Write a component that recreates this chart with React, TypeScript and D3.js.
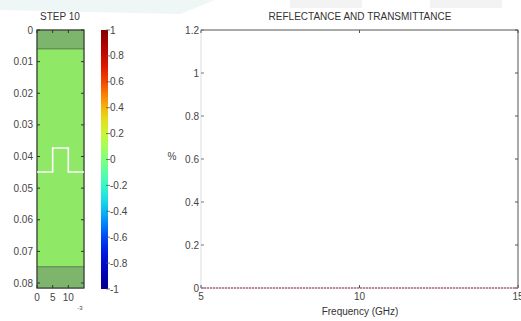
import React from 'react';
import * as d3 from 'd3';

// left panel: layered slab, depth (m) vs width (x1e-3)
const depthTicks = [0, 0.01, 0.02, 0.03, 0.04, 0.05, 0.06, 0.07, 0.08];
const widthTicks = [0, 5, 10];
const layers = [
  { y0: 0, y1: 0.006, kind: 'dark' },
  { y0: 0.006, y1: 0.0749, kind: 'light' },
  { y0: 0.0749, y1: 0.0816, kind: 'dark' },
];
// white pulse trace (x, depth)
const pulseX = [0, 5, 5, 10, 10, 15];
const pulseY = [0.0449, 0.0449, 0.0373, 0.0373, 0.0449, 0.0449];

// colorbar
const cbarTicks = [1, 0.8, 0.6, 0.4, 0.2, 0, -0.2, -0.4, -0.6, -0.8, -1];

// right panel
const freqTicks = [5, 10, 15];
const pctTicks = [0, 0.2, 0.4, 0.6, 0.8, 1, 1.2];
const freqs = [5, 6, 7, 8, 9, 10, 11, 12, 13, 14, 15];
const reflectance = [0, 0, 0, 0, 0, 0, 0, 0, 0, 0, 0];
const transmittance = [0, 0, 0, 0, 0, 0, 0, 0, 0, 0, 0];

const font = '"Liberation Sans", Arial, sans-serif';
const txt = '#444';

export default function App() {
  const W = 521, H = 321;

  const lx = d3.scaleLinear().domain([0, 15]).range([37, 84]);
  const ly = d3.scaleLinear().domain([0, 0.08]).range([30, 283]);

  const cy = d3.scaleLinear().domain([1, -1]).range([30, 289]);
  const stops = d3.range(0, 1.0001, 0.05);
  const jet = d3.interpolateRgbBasis(['#00008f', '#0000ff', '#00ffff', '#80ff80', '#ffff00', '#ff0000', '#800000']);

  const rx = d3.scaleLinear().domain([5, 15]).range([201, 518]);
  const ry = d3.scaleLinear().domain([0, 1.2]).range([288, 30]);

  const pulse = d3.line<number>().x(i => lx(pulseX[i])).y(i => ly(pulseY[i]));
  const pulsePts = pulseX.map((d, i) => i);

  const line = d3.line<number>().x((d, i) => rx(freqs[i])).y(d => ry(d));

  return (
    <svg width={W} height={H} style={{ position: 'absolute', left: 0, top: 0, background: '#fff' }}
      fontFamily={font}>
      {/* faint page artefacts at the top */}
      <path d="M0,0 L215,0 L180,14 L0,10 Z" fill="#eef7f5" />
      <rect x={290} y={0} width={72} height={8} fill="#f3f3f3" />
      <rect x={430} y={0} width={72} height={8} fill="#f3f3f3" />

      {/* LEFT PANEL */}
      <text x={60} y={20} textAnchor="middle" fontSize={10} fill="#333">STEP 10</text>
      {layers.map((l, i) => (
        <rect key={i} x={lx(0)} y={ly(l.y0)} width={lx(15) - lx(0)} height={ly(l.y1) - ly(l.y0)}
          fill={l.kind === 'dark' ? '#7db56c' : '#8fe866'} stroke="#5f7f55" strokeWidth={0.8} />
      ))}
      <rect x={lx(0)} y={ly(0)} width={lx(15) - lx(0)} height={ly(0.0816) - ly(0)}
        fill="none" stroke="#333" strokeWidth={1} />
      <path d={pulse(pulsePts) || ''} fill="none" stroke="#fff" strokeWidth={1.6} />
      {depthTicks.map(t => (
        <g key={t}>
          <line x1={lx(0)} x2={lx(0) + 3} y1={ly(t)} y2={ly(t)} stroke="#333" />
          <line x1={lx(15)} x2={lx(15) - 3} y1={ly(t)} y2={ly(t)} stroke="#333" />
          <text x={33} y={ly(t) + 3.5} textAnchor="end" fontSize={10} fill={txt}>{t === 0 ? '0' : t.toFixed(2)}</text>
        </g>
      ))}
      {widthTicks.map(t => (
        <g key={t}>
          <line x1={lx(t)} x2={lx(t)} y1={ly(0)} y2={ly(0) + 3} stroke="#333" />
          <line x1={lx(t)} x2={lx(t)} y1={ly(0.0816)} y2={ly(0.0816) - 3} stroke="#333" />
          <text x={lx(t)} y={301} textAnchor="middle" fontSize={10} fill={txt}>{t}</text>
        </g>
      ))}
      <text x={80} y={310} textAnchor="middle" fontSize={6} fill={txt}>-3</text>

      {/* COLORBAR */}
      <defs>
        <linearGradient id="jet" x1="0" y1="1" x2="0" y2="0">
          {stops.map(s => (
            <stop key={s} offset={s} stopColor={jet(s)} />
          ))}
        </linearGradient>
      </defs>
      <rect x={101} y={cy(1)} width={7} height={cy(-1) - cy(1)} fill="url(#jet)" />
      {cbarTicks.map(t => (
        <g key={t}>
          <line x1={106} x2={110} y1={cy(t)} y2={cy(t)} stroke="#555" strokeWidth={0.8} />
          <text x={110} y={cy(t) + 3.5} fontSize={10} fill={txt}>{String(t)}</text>
        </g>
      ))}

      {/* RIGHT PANEL */}
      <text x={360} y={20} textAnchor="middle" fontSize={10} fill="#333">REFLECTANCE AND TRANSMITTANCE</text>
      <line x1={rx(5)} x2={rx(15)} y1={ry(1.2)} y2={ry(1.2)} stroke="#555" />
      <line x1={rx(15)} x2={rx(15)} y1={ry(1.2)} y2={ry(0)} stroke="#555" />
      <line x1={rx(5)} x2={rx(5)} y1={ry(1.2)} y2={ry(0)} stroke="#ddd" />
      <line x1={rx(5)} x2={rx(15)} y1={ry(0)} y2={ry(0)} stroke="#bbb" />
      {pctTicks.map(t => (
        <g key={t}>
          <line x1={rx(5)} x2={rx(5) + 3} y1={ry(t)} y2={ry(t)} stroke="#777" />
          <line x1={rx(15)} x2={rx(15) - 3} y1={ry(t)} y2={ry(t)} stroke="#555" />
          <text x={199} y={ry(t) + 3.5} textAnchor="end" fontSize={10} fill={txt}>{String(t)}</text>
        </g>
      ))}
      {freqTicks.map(t => (
        <g key={t}>
          <line x1={rx(t)} x2={rx(t)} y1={ry(0)} y2={ry(0) - 3} stroke="#555" />
          <line x1={rx(t)} x2={rx(t)} y1={ry(1.2)} y2={ry(1.2) + 3} stroke="#555" />
          <text x={rx(t)} y={300} textAnchor="middle" fontSize={10} fill={txt}>{t}</text>
        </g>
      ))}
      <text x={172} y={160} textAnchor="middle" fontSize={10} fill={txt}>%</text>
      <text x={360} y={315} textAnchor="middle" fontSize={10} fill="#333">Frequency (GHz)</text>
      <path d={line(transmittance) || ''} fill="none" stroke="#8888dd" strokeWidth={1} strokeDasharray="2,1" />
      <path d={line(reflectance) || ''} fill="none" stroke="#d06070" strokeWidth={1} strokeDasharray="2,1" />
    </svg>
  );
}
